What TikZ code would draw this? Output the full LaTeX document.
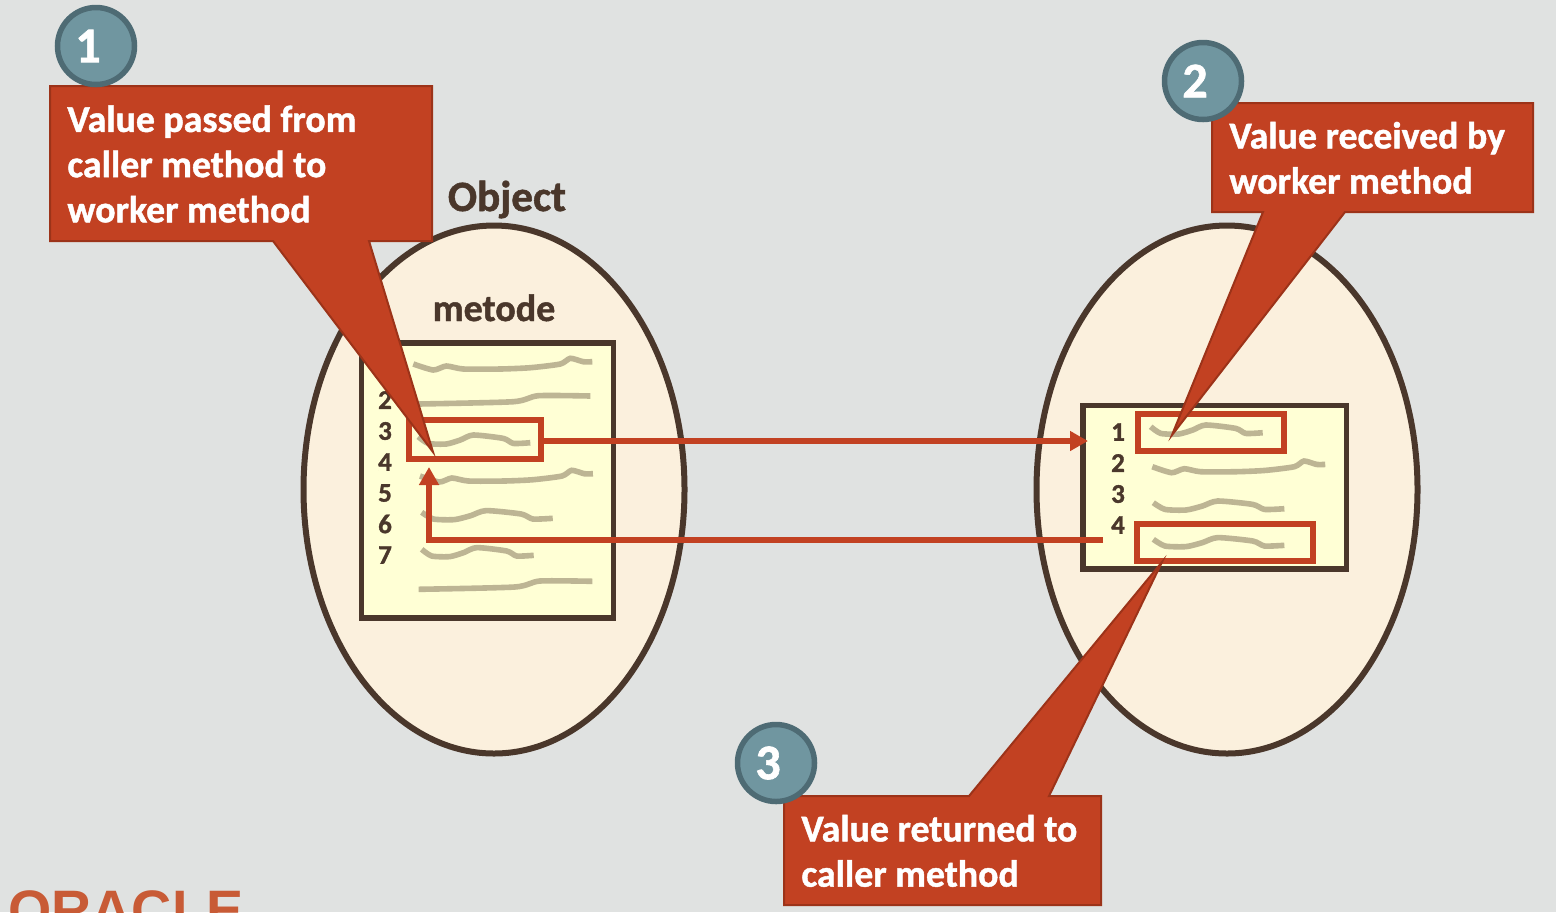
\documentclass[tikz,border=0pt]{standalone}
\usepackage{xcolor}
\usepackage{fontspec}
\setmainfont{Carlito}[BoldFeatures={FakeBold=1.2}]
\newfontfamily\logofont{Liberation Sans}
\usepackage{tikz}
\usetikzlibrary{positioning,arrows.meta,shapes.geometric}

\definecolor{slidebg}{HTML}{E0E2E1}
\definecolor{objfill}{HTML}{FBF0DD}
\definecolor{umber}{HTML}{4A372B}
\definecolor{paper}{HTML}{FFFFD5}
\definecolor{rust}{HTML}{C24122}
\definecolor{rustdark}{HTML}{9C3319}
\definecolor{scrib}{HTML}{BDB594}
\definecolor{badgefill}{HTML}{7096A0}
\definecolor{badgeline}{HTML}{4E6B74}
\definecolor{logocol}{HTML}{C85B36}

% wobbly code lines, y grows downward in this picture
\newcommand{\scribwave}[3]{\draw[scribble,shift={(#1,#2)},xscale=#3] plot[smooth,tension=.4] coordinates
  {(0,0) (20,6) (33,2) (50,5) (87,5) (117,3.7) (147,0) (157,-5.7) (170,-2.3) (179,-2.3)};}
\newcommand{\scribflat}[3]{\draw[scribble,shift={(#1,#2)},xscale=#3] plot[smooth,tension=.4] coordinates
  {(0,0) (95,-2.3) (120,-8.3) (172,-8)};}
\newcommand{\scribshort}[3]{\draw[scribble,shift={(#1,#2)},xscale=#3] plot[smooth,tension=.4] coordinates
  {(0,0) (10,6.7) (28,7.3) (42,3.3) (55,-1.7) (85,1.7) (95,6.7) (112,6)};}

\begin{document}
\begin{tikzpicture}[
  x=0.5pt, y=-0.5pt,
  object/.style={ellipse, draw=umber, fill=objfill, line width=3pt, inner sep=0pt,
                 minimum width=190.5pt, minimum height=264pt},
  codebox/.style={rectangle, draw=umber, fill=paper, line width=2.75pt, inner sep=0pt},
  hilite/.style={rectangle, draw=rust, line width=3pt, inner sep=0pt},
  scribble/.style={draw=scrib, line width=2.8pt},
  lineno/.style={text=umber, font=\fontsize{13.5}{15}\selectfont\bfseries, inner sep=0pt},
  heading/.style={text=umber, font=\fontsize{19}{22}\selectfont\bfseries, inner sep=0pt},
  flow/.style={draw=rust, line width=3pt, -{Triangle[length=9pt,width=9.5pt]}},
  callout/.style={fill=rust, draw=rustdark, line width=1pt, line join=miter},
  calltext/.style={text=white, anchor=north west, align=left, inner sep=0pt,
                   font=\fontsize{18.9}{22.6}\selectfont\bfseries},
  badge/.style={circle, draw=badgeline, fill=badgefill, line width=2.75pt, inner sep=0pt,
                minimum size=38.5pt, text=white, font=\fontsize{25}{28}\selectfont\bfseries,
                execute at end node=\kern8pt}
]
  \path[use as bounding box, fill=slidebg] (0,0) rectangle (1556,912);

  \node[anchor=base west, inner sep=0pt, text=logocol, font=\logofont\bfseries\fontsize{27.8}{30}\selectfont] (logo) at (8,929) {ORACLE};

  \node[object] (caller) at (494,489.5) {};
  \node[object] (worker) at (1227,489.5) {};

  \node[codebox, minimum width=126pt, minimum height=137.5pt] (callcode) at (487.5,480.5) {};
  \node[codebox, minimum width=131.75pt, minimum height=81.75pt] (workcode) at (1214.75,487.25) {};

  \node[heading, anchor=base, font=\fontsize{21.6}{24}\selectfont\bfseries] (objlabel) at (507,211) {Object};
  \node[heading, anchor=base] (metlabel) at (494,321) {metode};

  % caller code
  \scribwave{413.3}{364}{1}
  \scribflat{418.3}{404}{1}
  \scribshort{418.3}{436.7}{1}
  \scribwave{420}{476}{.966}
  \scribshort{421.7}{512.3}{1.17}
  \scribshort{421.7}{549.3}{1}
  \scribflat{418.7}{589.3}{1.01}
  \node[lineno] (ca2) at (385,400) {2};
  \node[lineno] (ca3) at (385,431) {3};
  \node[lineno] (ca4) at (385,462) {4};
  \node[lineno] (ca5) at (385,493) {5};
  \node[lineno] (ca6) at (385,524) {6};
  \node[lineno] (ca7) at (385,555) {7};

  % worker code
  \scribshort{1150.7}{426.7}{1}
  \scribwave{1152.3}{466.7}{.966}
  \scribshort{1153.3}{502.7}{1.17}
  \scribshort{1153.3}{539.3}{1.17}
  \node[lineno] (wo1) at (1118,432) {1};
  \node[lineno] (wo2) at (1118,463) {2};
  \node[lineno] (wo3) at (1118,494) {3};
  \node[lineno] (wo4) at (1118,525) {4};

  \node[hilite, minimum width=66.25pt, minimum height=19.6pt] (hlpass) at (474.75,439.4) {};
  \node[hilite, minimum width=73pt, minimum height=18.5pt] (hlrecv) at (1211,432.5) {};
  \node[hilite, minimum width=87.75pt, minimum height=18.5pt] (hlret) at (1224.75,542.5) {};

  \coordinate (recvin) at (1088,441);
  \coordinate (retout) at (1103,540);
  \coordinate (backin) at (429,467);
  \draw[flow] (hlpass.east |- recvin) -- (recvin);
  \draw[flow] (retout) -| (backin);

  % callouts with their tails
  \draw[callout] (50,86) -- (432,86) -- (432,241) -- (369,241) -- (433,452) -- (273,241) -- (50,241) -- cycle;
  \draw[callout] (1212,103) -- (1533,103) -- (1533,212) -- (1345,212) -- (1172,435) -- (1263,212) -- (1212,212) -- cycle;
  \draw[callout] (784,796) -- (969,796) -- (1162,562) -- (1049,796) -- (1101,796) -- (1101,905) -- (784,905) -- cycle;

  \node[calltext] (passtxt) at (67,105) {Value passed from\\caller method to\\worker method};
  \node[calltext] (recvtxt) at (1229,121.5) {Value received by\\worker method};
  \node[calltext] (rettxt) at (801,814.5) {Value returned to\\caller method};

  \node[badge] (one) at (96,46) {1};
  \node[badge] (two) at (1203,81) {2};
  \node[badge] (three) at (776,763) {3};
\end{tikzpicture}
\end{document}
